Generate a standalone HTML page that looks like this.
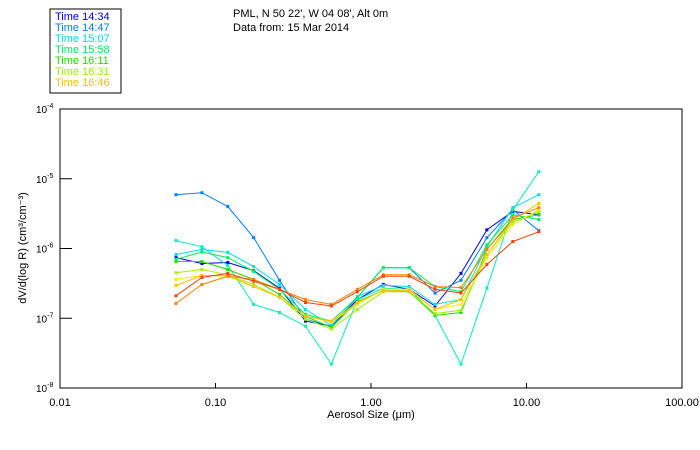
<!DOCTYPE html>
<html><head><meta charset="utf-8"><style>
body{margin:0;background:#fff;}
svg{display:block;font-family:"Liberation Sans",sans-serif;}
</style></head><body>
<svg id="chart" width="700" height="450" viewBox="0 0 700 450">
<rect x="50" y="9" width="71" height="84" fill="#fff" stroke="#000" stroke-width="1"/>
<g id="legend" font-size="11"></g>
<text x="233" y="17" font-size="11">PML, N 50 22', W 04 08', Alt 0m</text>
<text x="233" y="31" font-size="11">Data from: 15 Mar 2014</text>
<rect x="60" y="109" width="622" height="279" fill="none" stroke="#000" stroke-width="1"/>
<g id="axes" font-size="11"></g>
<g id="series"></g>
<text x="371" y="418" font-size="11" text-anchor="middle">Aerosol Size (μm)</text>
<text transform="translate(26,248) rotate(-90)" font-size="11" text-anchor="middle">dV/d(log R) (cm³/cm⁻³)</text>
</svg>
<script>
const sizes=[0.0557,0.0818,0.120,0.176,0.258,0.379,0.556,0.817,1.20,1.76,2.58,3.79,5.56,8.17,12.0];
const s1=[7.4e-7,6.1e-7,6.3e-7,4.8e-7,2.7e-7,9.1e-8,7.7e-8,1.85e-7,3.05e-7,2.6e-7,1.5e-7,4.4e-7,1.85e-6,3.4e-6,3.05e-6];
const s2=[5.9e-6,6.3e-6,4.0e-6,1.43e-6,3.5e-7,9.7e-8,7.7e-8,2.0e-7,5.3e-7,5.3e-7,2.3e-7,3.5e-7,1.43e-6,3.6e-6,1.8e-6];
const s3=[8.2e-7,9.7e-7,8.8e-7,5.5e-7,3.05e-7,1.34e-7,7.9e-8,2.05e-7,2.95e-7,2.85e-7,1.58e-7,1.85e-7,1.06e-6,3.85e-6,5.9e-6];
const s4=[1.3e-6,1.06e-6,5.7e-7,1.58e-7,1.21e-7,7.7e-8,2.2e-8,1.85e-7,2.7e-7,2.6e-7,1.1e-7,2.2e-8,2.7e-7,3.6e-6,1.26e-5];
const s5=[7.0e-7,8.9e-7,7.4e-7,4.7e-7,2.6e-7,1.13e-7,9.1e-8,2.0e-7,5.3e-7,5.3e-7,2.85e-7,2.4e-7,1.13e-6,3.05e-6,2.6e-6];
const s6=[6.5e-7,6.5e-7,5.0e-7,3.6e-7,2.2e-7,1.06e-7,7.4e-8,1.74e-7,2.5e-7,2.4e-7,1.1e-7,1.21e-7,9.7e-7,2.6e-6,3.05e-6];
const s7=[4.5e-7,5.0e-7,4.2e-7,3.05e-7,2.0e-7,9.7e-8,7.0e-8,1.34e-7,2.4e-7,2.4e-7,1.17e-7,1.3e-7,8.2e-7,2.4e-6,3.4e-6];
const s8=[3.6e-7,4.1e-7,4.0e-7,2.85e-7,2.0e-7,1.07e-7,8.8e-8,1.58e-7,2.6e-7,2.6e-7,1.34e-7,1.58e-7,7.4e-7,2.2e-6,3.6e-6];
const s9=[2.95e-7,4.1e-7,4.1e-7,2.85e-7,2.0e-7,1.06e-7,9.1e-8,1.68e-7,2.5e-7,2.5e-7,1.34e-7,1.85e-7,8.2e-7,2.6e-6,4.4e-6];
const s10=[1.63e-7,3.05e-7,4.0e-7,3.6e-7,2.6e-7,1.85e-7,1.58e-7,2.6e-7,4.2e-7,4.2e-7,2.85e-7,2.75e-7,9.7e-7,2.75e-6,3.85e-6];
const s11=[2.1e-7,3.85e-7,4.4e-7,3.4e-7,2.6e-7,1.68e-7,1.5e-7,2.4e-7,4.0e-7,4.0e-7,2.6e-7,2.3e-7,5.9e-7,1.26e-6,1.74e-6];
const seriesValues=[s1,s2,s3,s4,s5,s6,s7,s8,s9,s10,s11];
const seriesColors=["#0000f0","#0080ff","#00e0f0","#00f0c0","#00f060","#20e000","#a0f000","#f0f000","#ffc000","#ff8000","#ff4000"];
const legendLabels=["Time 14:34","Time 14:47","Time 15:07","Time 15:58","Time 16:11","Time 16:31","Time 16:46"];
const legendColors=["#0000f0","#0080ff","#00e0f0","#00f060","#20e000","#a0f000","#ffc000"];
const xTicks=[0.01,0.1,1,10,100];
const xTickLabels=["0.01","0.10","1.00","10.00","100.00"];
const yTicks=[-4,-5,-6,-7,-8];

const NS="http://www.w3.org/2000/svg";
const X0=60,X1=682,Y0=109,Y1=388;
function xs(v){return X0+(Math.log10(v)+2)/4*(X1-X0);}
function ys(v){return Y0+(-4-Math.log10(v))/4*(Y1-Y0);}
function mk(t,a,p){const e=document.createElementNS(NS,t);for(const k in a)e.setAttribute(k,a[k]);p.appendChild(e);return e;}

const lg=document.getElementById('legend');
legendLabels.forEach((l,i)=>{
  const t=mk('text',{x:55,y:20+i*11,fill:legendColors[i]},lg);
  t.textContent=l;
  
  
});

const ax=document.getElementById('axes');
xTicks.forEach((v,i)=>{
  const x=xs(v);
  if(i>0&&i<xTicks.length-1){const l=mk('line',{x1:x,x2:x,y1:Y1,y2:Y1-5,stroke:'#000'},ax);
  
  }
  const t=mk('text',{x:x,y:406,'text-anchor':'middle'},ax);
  t.textContent=xTickLabels[i];
  
  
});
yTicks.forEach((p,i)=>{
  const y=ys(Math.pow(10,p));
  if(i>0&&i<yTicks.length-1){const l=mk('line',{x1:X0,x2:X0+12,y1:y,y2:y,stroke:'#000'},ax);
  
  }
  const t=mk('text',{x:36,y:y+4,'font-size':'10'},ax);
  t.textContent='10';
  const s=mk('tspan',{dy:-5,'font-size':'7'},t);
  s.textContent=String(p);
  
  
});

const sg=document.getElementById('series');
seriesValues.forEach((vals,si)=>{
  const g=mk('g',{},sg);
  
  
  const pts=vals.map((v,i)=>xs(sizes[i]).toFixed(1)+','+ys(v).toFixed(1)).join(' ');
  const pl=mk('polyline',{points:pts,fill:'none',stroke:seriesColors[si],'stroke-width':1},g);
  
  
  vals.forEach((v,i)=>{
    const r=mk('rect',{x:xs(sizes[i])-1.5,y:ys(v)-1.5,width:3,height:3,fill:seriesColors[si]},g);
    
    
  });
});
</script>
</body></html>
